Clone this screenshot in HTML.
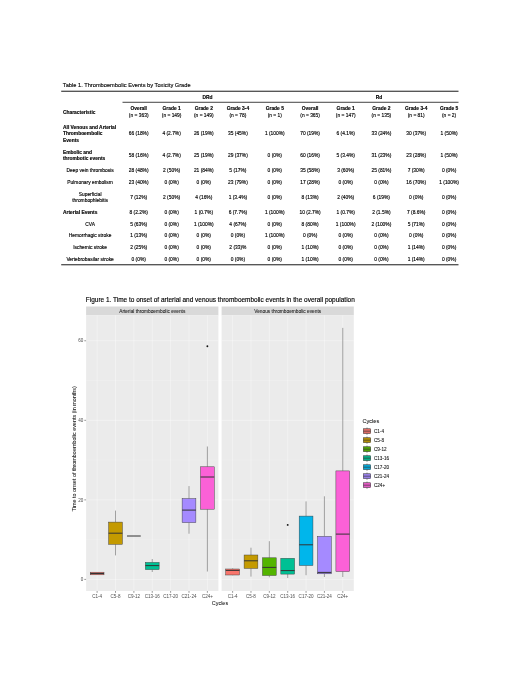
<!DOCTYPE html>
<html lang="en">
<head>
<meta charset="utf-8">
<title>Table 1. Thromboembolic Events by Toxicity Grade</title>
<style>
html,body{margin:0;padding:0;background:#fff;}
body{width:520px;height:673px;overflow:hidden;}
svg{display:block;}
svg text{font-family:"Liberation Sans",Arial,sans-serif;font-size:4.88px;fill:#000;stroke:#000;stroke-width:0.14px;}
svg text.c{text-anchor:middle;}
svg text.l{text-anchor:start;}
svg text.b{font-weight:bold;}
svg text.ttl{font-size:5.7px;fill:#0d0d0d;}
svg text.ftl{font-size:6.47px;fill:#000;}
svg text.st{font-size:4.8px;fill:#1a1a1a;stroke:#1a1a1a;stroke-width:0.06px;text-anchor:middle;}
svg text.ax{font-size:4.55px;fill:#4d4d4d;stroke:none;text-anchor:middle;}
svg text.ay{font-size:4.55px;fill:#4d4d4d;stroke:none;text-anchor:end;}
svg text.at{font-size:5.45px;fill:#111;stroke:#111;stroke-width:0.04px;text-anchor:middle;}
svg text.lt{font-size:5.6px;fill:#111;stroke:#111;stroke-width:0.05px;}
svg text.lg{font-size:4.6px;fill:#111;stroke:#111;stroke-width:0.08px;}
</style>
</head>
<body>
<svg width="520" height="673" viewBox="0 0 520 673">
<rect x="0" y="0" width="520" height="673" fill="#ffffff"/>
<!-- Table 1 -->
<text x="62.80" y="87" class="ttl">Table 1. Thromboembolic Events by Toxicity Grade</text>
<rect x="61.2" y="90.7" width="397.3" height="1.1" fill="#2e2e2e"/>
<rect x="122.5" y="101.8" width="336" height="0.9" fill="#2e2e2e"/>
<rect x="61.2" y="264.2" width="397.3" height="1.1" fill="#2e2e2e"/>
<text x="207.60" y="99" class="c b">DRd</text>
<text x="379.00" y="99" class="c b">Rd</text>
<text x="63.00" y="114" class="l b">Characteristic</text>
<text x="138.70" y="110" class="c b">Overall</text>
<text x="138.70" y="117" class="c">(n = 363)</text>
<text x="171.60" y="110" class="c b">Grade 1</text>
<text x="171.60" y="117" class="c">(n = 149)</text>
<text x="203.80" y="110" class="c b">Grade 2</text>
<text x="203.80" y="117" class="c">(n = 149)</text>
<text x="237.90" y="110" class="c b">Grade 3-4</text>
<text x="237.90" y="117" class="c">(n = 78)</text>
<text x="274.80" y="110" class="c b">Grade 5</text>
<text x="274.80" y="117" class="c">(n = 1)</text>
<text x="310.10" y="110" class="c b">Overall</text>
<text x="310.10" y="117" class="c">(n = 365)</text>
<text x="345.70" y="110" class="c b">Grade 1</text>
<text x="345.70" y="117" class="c">(n = 147)</text>
<text x="381.40" y="110" class="c b">Grade 2</text>
<text x="381.40" y="117" class="c">(n = 135)</text>
<text x="416.20" y="110" class="c b">Grade 3-4</text>
<text x="416.20" y="117" class="c">(n = 81)</text>
<text x="449.10" y="110" class="c b">Grade 5</text>
<text x="449.10" y="117" class="c">(n = 2)</text>
<text x="63.00" y="129" class="l b">All Venous and Arterial</text>
<text x="63.00" y="135" class="l b">Thromboembolic</text>
<text x="63.00" y="142" class="l b">Events</text>
<text x="138.70" y="135" class="c">66 (18%)</text>
<text x="171.60" y="135" class="c">4 (2.7%)</text>
<text x="203.80" y="135" class="c">26 (19%)</text>
<text x="237.90" y="135" class="c">35 (45%)</text>
<text x="274.80" y="135" class="c">1 (100%)</text>
<text x="310.10" y="135" class="c">70 (19%)</text>
<text x="345.70" y="135" class="c">6 (4.1%)</text>
<text x="381.40" y="135" class="c">33 (24%)</text>
<text x="416.20" y="135" class="c">30 (37%)</text>
<text x="449.10" y="135" class="c">1 (50%)</text>
<text x="63.00" y="154" class="l b">Embolic and</text>
<text x="63.00" y="160" class="l b">thrombotic events</text>
<text x="138.70" y="157" class="c">58 (16%)</text>
<text x="171.60" y="157" class="c">4 (2.7%)</text>
<text x="203.80" y="157" class="c">25 (19%)</text>
<text x="237.90" y="157" class="c">29 (37%)</text>
<text x="274.80" y="157" class="c">0 (0%)</text>
<text x="310.10" y="157" class="c">60 (16%)</text>
<text x="345.70" y="157" class="c">5 (3.4%)</text>
<text x="381.40" y="157" class="c">31 (23%)</text>
<text x="416.20" y="157" class="c">23 (28%)</text>
<text x="449.10" y="157" class="c">1 (50%)</text>
<text x="90.10" y="172" class="c">Deep vein thrombosis</text>
<text x="138.70" y="172" class="c">28 (48%)</text>
<text x="171.60" y="172" class="c">2 (50%)</text>
<text x="203.80" y="172" class="c">21 (84%)</text>
<text x="237.90" y="172" class="c">5 (17%)</text>
<text x="274.80" y="172" class="c">0 (0%)</text>
<text x="310.10" y="172" class="c">35 (58%)</text>
<text x="345.70" y="172" class="c">3 (60%)</text>
<text x="381.40" y="172" class="c">25 (81%)</text>
<text x="416.20" y="172" class="c">7 (30%)</text>
<text x="449.10" y="172" class="c">0 (0%)</text>
<text x="90.10" y="184" class="c">Pulmonary embolism</text>
<text x="138.70" y="184" class="c">23 (40%)</text>
<text x="171.60" y="184" class="c">0 (0%)</text>
<text x="203.80" y="184" class="c">0 (0%)</text>
<text x="237.90" y="184" class="c">23 (79%)</text>
<text x="274.80" y="184" class="c">0 (0%)</text>
<text x="310.10" y="184" class="c">17 (28%)</text>
<text x="345.70" y="184" class="c">0 (0%)</text>
<text x="381.40" y="184" class="c">0 (0%)</text>
<text x="416.20" y="184" class="c">16 (70%)</text>
<text x="449.10" y="184" class="c">1 (100%)</text>
<text x="90.10" y="196" class="c">Superficial</text>
<text x="90.10" y="202" class="c">thrombophlebitis</text>
<text x="138.70" y="199" class="c">7 (12%)</text>
<text x="171.60" y="199" class="c">2 (50%)</text>
<text x="203.80" y="199" class="c">4 (16%)</text>
<text x="237.90" y="199" class="c">1 (3.4%)</text>
<text x="274.80" y="199" class="c">0 (0%)</text>
<text x="310.10" y="199" class="c">8 (13%)</text>
<text x="345.70" y="199" class="c">2 (40%)</text>
<text x="381.40" y="199" class="c">6 (19%)</text>
<text x="416.20" y="199" class="c">0 (0%)</text>
<text x="449.10" y="199" class="c">0 (0%)</text>
<text x="63.00" y="214" class="l b">Arterial Events</text>
<text x="138.70" y="214" class="c">8 (2.2%)</text>
<text x="171.60" y="214" class="c">0 (0%)</text>
<text x="203.80" y="214" class="c">1 (0.7%)</text>
<text x="237.90" y="214" class="c">6 (7.7%)</text>
<text x="274.80" y="214" class="c">1 (100%)</text>
<text x="310.10" y="214" class="c">10 (2.7%)</text>
<text x="345.70" y="214" class="c">1 (0.7%)</text>
<text x="381.40" y="214" class="c">2 (1.5%)</text>
<text x="416.20" y="214" class="c">7 (8.6%)</text>
<text x="449.10" y="214" class="c">0 (0%)</text>
<text x="90.10" y="226" class="c">CVA</text>
<text x="138.70" y="226" class="c">5 (63%)</text>
<text x="171.60" y="226" class="c">0 (0%)</text>
<text x="203.80" y="226" class="c">1 (100%)</text>
<text x="237.90" y="226" class="c">4 (67%)</text>
<text x="274.80" y="226" class="c">0 (0%)</text>
<text x="310.10" y="226" class="c">8 (80%)</text>
<text x="345.70" y="226" class="c">1 (100%)</text>
<text x="381.40" y="226" class="c">2 (100%)</text>
<text x="416.20" y="226" class="c">5 (71%)</text>
<text x="449.10" y="226" class="c">0 (0%)</text>
<text x="90.10" y="237" class="c">Hemorrhagic stroke</text>
<text x="138.70" y="237" class="c">1 (13%)</text>
<text x="171.60" y="237" class="c">0 (0%)</text>
<text x="203.80" y="237" class="c">0 (0%)</text>
<text x="237.90" y="237" class="c">0 (0%)</text>
<text x="274.80" y="237" class="c">1 (100%)</text>
<text x="310.10" y="237" class="c">0 (0%)</text>
<text x="345.70" y="237" class="c">0 (0%)</text>
<text x="381.40" y="237" class="c">0 (0%)</text>
<text x="416.20" y="237" class="c">0 (0%)</text>
<text x="449.10" y="237" class="c">0 (0%)</text>
<text x="90.10" y="249" class="c">Ischemic stroke</text>
<text x="138.70" y="249" class="c">2 (25%)</text>
<text x="171.60" y="249" class="c">0 (0%)</text>
<text x="203.80" y="249" class="c">0 (0%)</text>
<text x="237.90" y="249" class="c">2 (33)%</text>
<text x="274.80" y="249" class="c">0 (0%)</text>
<text x="310.10" y="249" class="c">1 (10%)</text>
<text x="345.70" y="249" class="c">0 (0%)</text>
<text x="381.40" y="249" class="c">0 (0%)</text>
<text x="416.20" y="249" class="c">1 (14%)</text>
<text x="449.10" y="249" class="c">0 (0%)</text>
<text x="90.10" y="261" class="c">Vertebrobasilar stroke</text>
<text x="138.70" y="261" class="c">0 (0%)</text>
<text x="171.60" y="261" class="c">0 (0%)</text>
<text x="203.80" y="261" class="c">0 (0%)</text>
<text x="237.90" y="261" class="c">0 (0%)</text>
<text x="274.80" y="261" class="c">0 (0%)</text>
<text x="310.10" y="261" class="c">1 (10%)</text>
<text x="345.70" y="261" class="c">0 (0%)</text>
<text x="381.40" y="261" class="c">0 (0%)</text>
<text x="416.20" y="261" class="c">1 (14%)</text>
<text x="449.10" y="261" class="c">0 (0%)</text>
<!-- Figure 1 -->
<text x="85.80" y="302" class="ftl">Figure 1. Time to onset of arterial and venous thromboembolic events in the overall population</text>
<rect x="86.1" y="306.5" width="132.30" height="8.90" fill="#d9d9d9"/>
<rect x="86.1" y="315.4" width="132.30" height="275.60" fill="#ebebeb"/>
<line x1="86.1" x2="218.4" y1="539.63" y2="539.63" stroke="#ffffff" stroke-width="0.16"/>
<line x1="86.1" x2="218.4" y1="460.09" y2="460.09" stroke="#ffffff" stroke-width="0.16"/>
<line x1="86.1" x2="218.4" y1="380.55" y2="380.55" stroke="#ffffff" stroke-width="0.16"/>
<line x1="86.1" x2="218.4" y1="579.40" y2="579.40" stroke="#ffffff" stroke-width="0.36"/>
<line x1="86.1" x2="218.4" y1="499.86" y2="499.86" stroke="#ffffff" stroke-width="0.36"/>
<line x1="86.1" x2="218.4" y1="420.32" y2="420.32" stroke="#ffffff" stroke-width="0.36"/>
<line x1="86.1" x2="218.4" y1="340.78" y2="340.78" stroke="#ffffff" stroke-width="0.36"/>
<line x1="97.12" x2="97.12" y1="315.4" y2="591.0" stroke="#ffffff" stroke-width="0.36"/>
<line x1="97.12" x2="97.12" y1="591.0" y2="592.8" stroke="#333" stroke-width="0.5"/>
<line x1="115.50" x2="115.50" y1="315.4" y2="591.0" stroke="#ffffff" stroke-width="0.36"/>
<line x1="115.50" x2="115.50" y1="591.0" y2="592.8" stroke="#333" stroke-width="0.5"/>
<line x1="133.88" x2="133.88" y1="315.4" y2="591.0" stroke="#ffffff" stroke-width="0.36"/>
<line x1="133.88" x2="133.88" y1="591.0" y2="592.8" stroke="#333" stroke-width="0.5"/>
<line x1="152.25" x2="152.25" y1="315.4" y2="591.0" stroke="#ffffff" stroke-width="0.36"/>
<line x1="152.25" x2="152.25" y1="591.0" y2="592.8" stroke="#333" stroke-width="0.5"/>
<line x1="170.62" x2="170.62" y1="315.4" y2="591.0" stroke="#ffffff" stroke-width="0.36"/>
<line x1="170.62" x2="170.62" y1="591.0" y2="592.8" stroke="#333" stroke-width="0.5"/>
<line x1="189.00" x2="189.00" y1="315.4" y2="591.0" stroke="#ffffff" stroke-width="0.36"/>
<line x1="189.00" x2="189.00" y1="591.0" y2="592.8" stroke="#333" stroke-width="0.5"/>
<line x1="207.38" x2="207.38" y1="315.4" y2="591.0" stroke="#ffffff" stroke-width="0.36"/>
<line x1="207.38" x2="207.38" y1="591.0" y2="592.8" stroke="#333" stroke-width="0.5"/>
<text x="152.25" y="313" class="st">Arterial thromboembolic events</text>
<text x="97.12" y="598" class="ax">C1-4</text>
<text x="115.50" y="598" class="ax">C5-8</text>
<text x="133.88" y="598" class="ax">C9-12</text>
<text x="152.25" y="598" class="ax">C13-16</text>
<text x="170.62" y="598" class="ax">C17-20</text>
<text x="189.00" y="598" class="ax">C21-24</text>
<text x="207.38" y="598" class="ax">C24+</text>
<rect x="221.6" y="306.5" width="132.20" height="8.90" fill="#d9d9d9"/>
<rect x="221.6" y="315.4" width="132.20" height="275.60" fill="#ebebeb"/>
<line x1="221.6" x2="353.8" y1="539.63" y2="539.63" stroke="#ffffff" stroke-width="0.16"/>
<line x1="221.6" x2="353.8" y1="460.09" y2="460.09" stroke="#ffffff" stroke-width="0.16"/>
<line x1="221.6" x2="353.8" y1="380.55" y2="380.55" stroke="#ffffff" stroke-width="0.16"/>
<line x1="221.6" x2="353.8" y1="579.40" y2="579.40" stroke="#ffffff" stroke-width="0.36"/>
<line x1="221.6" x2="353.8" y1="499.86" y2="499.86" stroke="#ffffff" stroke-width="0.36"/>
<line x1="221.6" x2="353.8" y1="420.32" y2="420.32" stroke="#ffffff" stroke-width="0.36"/>
<line x1="221.6" x2="353.8" y1="340.78" y2="340.78" stroke="#ffffff" stroke-width="0.36"/>
<line x1="232.62" x2="232.62" y1="315.4" y2="591.0" stroke="#ffffff" stroke-width="0.36"/>
<line x1="232.62" x2="232.62" y1="591.0" y2="592.8" stroke="#333" stroke-width="0.5"/>
<line x1="250.98" x2="250.98" y1="315.4" y2="591.0" stroke="#ffffff" stroke-width="0.36"/>
<line x1="250.98" x2="250.98" y1="591.0" y2="592.8" stroke="#333" stroke-width="0.5"/>
<line x1="269.34" x2="269.34" y1="315.4" y2="591.0" stroke="#ffffff" stroke-width="0.36"/>
<line x1="269.34" x2="269.34" y1="591.0" y2="592.8" stroke="#333" stroke-width="0.5"/>
<line x1="287.70" x2="287.70" y1="315.4" y2="591.0" stroke="#ffffff" stroke-width="0.36"/>
<line x1="287.70" x2="287.70" y1="591.0" y2="592.8" stroke="#333" stroke-width="0.5"/>
<line x1="306.06" x2="306.06" y1="315.4" y2="591.0" stroke="#ffffff" stroke-width="0.36"/>
<line x1="306.06" x2="306.06" y1="591.0" y2="592.8" stroke="#333" stroke-width="0.5"/>
<line x1="324.42" x2="324.42" y1="315.4" y2="591.0" stroke="#ffffff" stroke-width="0.36"/>
<line x1="324.42" x2="324.42" y1="591.0" y2="592.8" stroke="#333" stroke-width="0.5"/>
<line x1="342.78" x2="342.78" y1="315.4" y2="591.0" stroke="#ffffff" stroke-width="0.36"/>
<line x1="342.78" x2="342.78" y1="591.0" y2="592.8" stroke="#333" stroke-width="0.5"/>
<text x="287.70" y="313" class="st">Venous thromboembolic events</text>
<text x="232.62" y="598" class="ax">C1-4</text>
<text x="250.98" y="598" class="ax">C5-8</text>
<text x="269.34" y="598" class="ax">C9-12</text>
<text x="287.70" y="598" class="ax">C13-16</text>
<text x="306.06" y="598" class="ax">C17-20</text>
<text x="324.42" y="598" class="ax">C21-24</text>
<text x="342.78" y="598" class="ax">C24+</text>
<line x1="84.3" x2="86.1" y1="579.40" y2="579.40" stroke="#333" stroke-width="0.5"/>
<text x="83.20" y="581" class="ay">0</text>
<line x1="84.3" x2="86.1" y1="499.86" y2="499.86" stroke="#333" stroke-width="0.5"/>
<text x="83.20" y="502" class="ay">20</text>
<line x1="84.3" x2="86.1" y1="420.32" y2="420.32" stroke="#333" stroke-width="0.5"/>
<text x="83.20" y="422" class="ay">40</text>
<line x1="84.3" x2="86.1" y1="340.78" y2="340.78" stroke="#333" stroke-width="0.5"/>
<text x="83.20" y="342" class="ay">60</text>
<line x1="97.12" x2="97.12" y1="572.00" y2="572.20" stroke="#3a3a3a" stroke-width="0.45"/>
<line x1="97.12" x2="97.12" y1="574.80" y2="575.00" stroke="#3a3a3a" stroke-width="0.45"/>
<rect x="90.24" y="572.20" width="13.77" height="2.60" fill="#F8766D" stroke="#3a3a3a" stroke-width="0.45"/>
<line x1="90.24" x2="104.01" y1="573.50" y2="573.50" stroke="#333" stroke-width="1.0"/>
<line x1="115.50" x2="115.50" y1="510.60" y2="522.10" stroke="#3a3a3a" stroke-width="0.45"/>
<line x1="115.50" x2="115.50" y1="544.30" y2="555.40" stroke="#3a3a3a" stroke-width="0.45"/>
<rect x="108.61" y="522.10" width="13.77" height="22.20" fill="#C49A00" stroke="#3a3a3a" stroke-width="0.45"/>
<line x1="108.61" x2="122.39" y1="533.20" y2="533.20" stroke="#333" stroke-width="1.0"/>
<line x1="133.88" x2="133.88" y1="536.00" y2="536.00" stroke="#3a3a3a" stroke-width="0.45"/>
<line x1="133.88" x2="133.88" y1="536.00" y2="536.00" stroke="#3a3a3a" stroke-width="0.45"/>
<rect x="126.99" y="536.00" width="13.77" height="0.00" fill="#53B400" stroke="#3a3a3a" stroke-width="0.45"/>
<line x1="126.99" x2="140.76" y1="536.00" y2="536.00" stroke="#333" stroke-width="1.0"/>
<line x1="152.25" x2="152.25" y1="559.00" y2="562.40" stroke="#3a3a3a" stroke-width="0.45"/>
<line x1="152.25" x2="152.25" y1="569.60" y2="572.00" stroke="#3a3a3a" stroke-width="0.45"/>
<rect x="145.36" y="562.40" width="13.77" height="7.20" fill="#00C094" stroke="#3a3a3a" stroke-width="0.45"/>
<line x1="145.36" x2="159.14" y1="565.60" y2="565.60" stroke="#333" stroke-width="1.0"/>
<line x1="189.00" x2="189.00" y1="486.10" y2="498.60" stroke="#3a3a3a" stroke-width="0.45"/>
<line x1="189.00" x2="189.00" y1="522.60" y2="533.70" stroke="#3a3a3a" stroke-width="0.45"/>
<rect x="182.11" y="498.60" width="13.77" height="24.00" fill="#A58AFF" stroke="#3a3a3a" stroke-width="0.45"/>
<line x1="182.11" x2="195.89" y1="510.10" y2="510.10" stroke="#333" stroke-width="1.0"/>
<line x1="207.38" x2="207.38" y1="446.50" y2="466.80" stroke="#3a3a3a" stroke-width="0.45"/>
<line x1="207.38" x2="207.38" y1="509.20" y2="571.50" stroke="#3a3a3a" stroke-width="0.45"/>
<rect x="200.49" y="466.80" width="13.77" height="42.40" fill="#FB61D7" stroke="#3a3a3a" stroke-width="0.45"/>
<line x1="200.49" x2="214.26" y1="477.00" y2="477.00" stroke="#333" stroke-width="1.0"/>
<circle cx="207.38" cy="346.20" r="0.95" fill="#111"/>
<line x1="232.62" x2="232.62" y1="568.40" y2="569.00" stroke="#3a3a3a" stroke-width="0.45"/>
<line x1="232.62" x2="232.62" y1="575.00" y2="575.30" stroke="#3a3a3a" stroke-width="0.45"/>
<rect x="225.73" y="569.00" width="13.77" height="6.00" fill="#F8766D" stroke="#3a3a3a" stroke-width="0.45"/>
<line x1="225.73" x2="239.50" y1="570.40" y2="570.40" stroke="#333" stroke-width="1.0"/>
<line x1="250.98" x2="250.98" y1="547.70" y2="555.00" stroke="#3a3a3a" stroke-width="0.45"/>
<line x1="250.98" x2="250.98" y1="568.40" y2="576.60" stroke="#3a3a3a" stroke-width="0.45"/>
<rect x="244.09" y="555.00" width="13.77" height="13.40" fill="#C49A00" stroke="#3a3a3a" stroke-width="0.45"/>
<line x1="244.09" x2="257.86" y1="560.80" y2="560.80" stroke="#333" stroke-width="1.0"/>
<line x1="269.34" x2="269.34" y1="541.20" y2="557.80" stroke="#3a3a3a" stroke-width="0.45"/>
<line x1="269.34" x2="269.34" y1="575.50" y2="577.30" stroke="#3a3a3a" stroke-width="0.45"/>
<rect x="262.45" y="557.80" width="13.77" height="17.70" fill="#53B400" stroke="#3a3a3a" stroke-width="0.45"/>
<line x1="262.45" x2="276.22" y1="567.40" y2="567.40" stroke="#333" stroke-width="1.0"/>
<line x1="287.70" x2="287.70" y1="558.30" y2="558.30" stroke="#3a3a3a" stroke-width="0.45"/>
<line x1="287.70" x2="287.70" y1="574.10" y2="578.00" stroke="#3a3a3a" stroke-width="0.45"/>
<rect x="280.81" y="558.30" width="13.77" height="15.80" fill="#00C094" stroke="#3a3a3a" stroke-width="0.45"/>
<line x1="280.81" x2="294.59" y1="570.60" y2="570.60" stroke="#333" stroke-width="1.0"/>
<circle cx="287.70" cy="524.90" r="0.95" fill="#111"/>
<line x1="306.06" x2="306.06" y1="501.40" y2="516.10" stroke="#3a3a3a" stroke-width="0.45"/>
<line x1="306.06" x2="306.06" y1="565.50" y2="575.20" stroke="#3a3a3a" stroke-width="0.45"/>
<rect x="299.18" y="516.10" width="13.77" height="49.40" fill="#00B6EB" stroke="#3a3a3a" stroke-width="0.45"/>
<line x1="299.18" x2="312.95" y1="544.80" y2="544.80" stroke="#333" stroke-width="1.0"/>
<line x1="324.42" x2="324.42" y1="496.30" y2="536.40" stroke="#3a3a3a" stroke-width="0.45"/>
<line x1="324.42" x2="324.42" y1="573.80" y2="577.00" stroke="#3a3a3a" stroke-width="0.45"/>
<rect x="317.54" y="536.40" width="13.77" height="37.40" fill="#A58AFF" stroke="#3a3a3a" stroke-width="0.45"/>
<line x1="317.54" x2="331.31" y1="572.40" y2="572.40" stroke="#333" stroke-width="1.0"/>
<line x1="342.78" x2="342.78" y1="327.90" y2="470.90" stroke="#3a3a3a" stroke-width="0.45"/>
<line x1="342.78" x2="342.78" y1="571.50" y2="577.00" stroke="#3a3a3a" stroke-width="0.45"/>
<rect x="335.90" y="470.90" width="13.77" height="100.60" fill="#FB61D7" stroke="#3a3a3a" stroke-width="0.45"/>
<line x1="335.90" x2="349.67" y1="534.10" y2="534.10" stroke="#333" stroke-width="1.0"/>
<text x="219.95" y="605" class="at">Cycles</text>
<text transform="translate(76,448.75) rotate(-90)" class="at">Time to onset of thromboembolic events (in months)</text>
<text x="362.4" y="423" class="lt">Cycles</text>
<line x1="367" x2="367" y1="427.50" y2="434.90" stroke="#333" stroke-width="0.5"/>
<rect x="363.3" y="428.75" width="7.4" height="4.9" fill="#e06d66" stroke="#333" stroke-width="0.5"/>
<line x1="363.3" x2="370.7" y1="431.20" y2="431.20" stroke="#333" stroke-width="0.6"/>
<text x="374" y="433" class="lg">C1-4</text>
<line x1="367" x2="367" y1="436.50" y2="443.90" stroke="#333" stroke-width="0.5"/>
<rect x="363.3" y="437.75" width="7.4" height="4.9" fill="#b28d06" stroke="#333" stroke-width="0.5"/>
<line x1="363.3" x2="370.7" y1="440.20" y2="440.20" stroke="#333" stroke-width="0.6"/>
<text x="374" y="442" class="lg">C5-8</text>
<line x1="367" x2="367" y1="445.50" y2="452.90" stroke="#333" stroke-width="0.5"/>
<rect x="363.3" y="446.75" width="7.4" height="4.9" fill="#4fa406" stroke="#333" stroke-width="0.5"/>
<line x1="363.3" x2="370.7" y1="449.20" y2="449.20" stroke="#333" stroke-width="0.6"/>
<text x="374" y="451" class="lg">C9-12</text>
<line x1="367" x2="367" y1="454.50" y2="461.90" stroke="#333" stroke-width="0.5"/>
<rect x="363.3" y="455.75" width="7.4" height="4.9" fill="#06af88" stroke="#333" stroke-width="0.5"/>
<line x1="363.3" x2="370.7" y1="458.20" y2="458.20" stroke="#333" stroke-width="0.6"/>
<text x="374" y="460" class="lg">C13-16</text>
<line x1="367" x2="367" y1="463.50" y2="470.90" stroke="#333" stroke-width="0.5"/>
<rect x="363.3" y="464.75" width="7.4" height="4.9" fill="#06a6d4" stroke="#333" stroke-width="0.5"/>
<line x1="363.3" x2="370.7" y1="467.20" y2="467.20" stroke="#333" stroke-width="0.6"/>
<text x="374" y="469" class="lg">C17-20</text>
<line x1="367" x2="367" y1="472.50" y2="479.90" stroke="#333" stroke-width="0.5"/>
<rect x="363.3" y="473.75" width="7.4" height="4.9" fill="#977fe6" stroke="#333" stroke-width="0.5"/>
<line x1="363.3" x2="370.7" y1="476.20" y2="476.20" stroke="#333" stroke-width="0.6"/>
<text x="374" y="478" class="lg">C21-24</text>
<line x1="367" x2="367" y1="481.50" y2="488.90" stroke="#333" stroke-width="0.5"/>
<rect x="363.3" y="482.75" width="7.4" height="4.9" fill="#e35bc3" stroke="#333" stroke-width="0.5"/>
<line x1="363.3" x2="370.7" y1="485.20" y2="485.20" stroke="#333" stroke-width="0.6"/>
<text x="374" y="487" class="lg">C24+</text>
</svg>
</body>
</html>
